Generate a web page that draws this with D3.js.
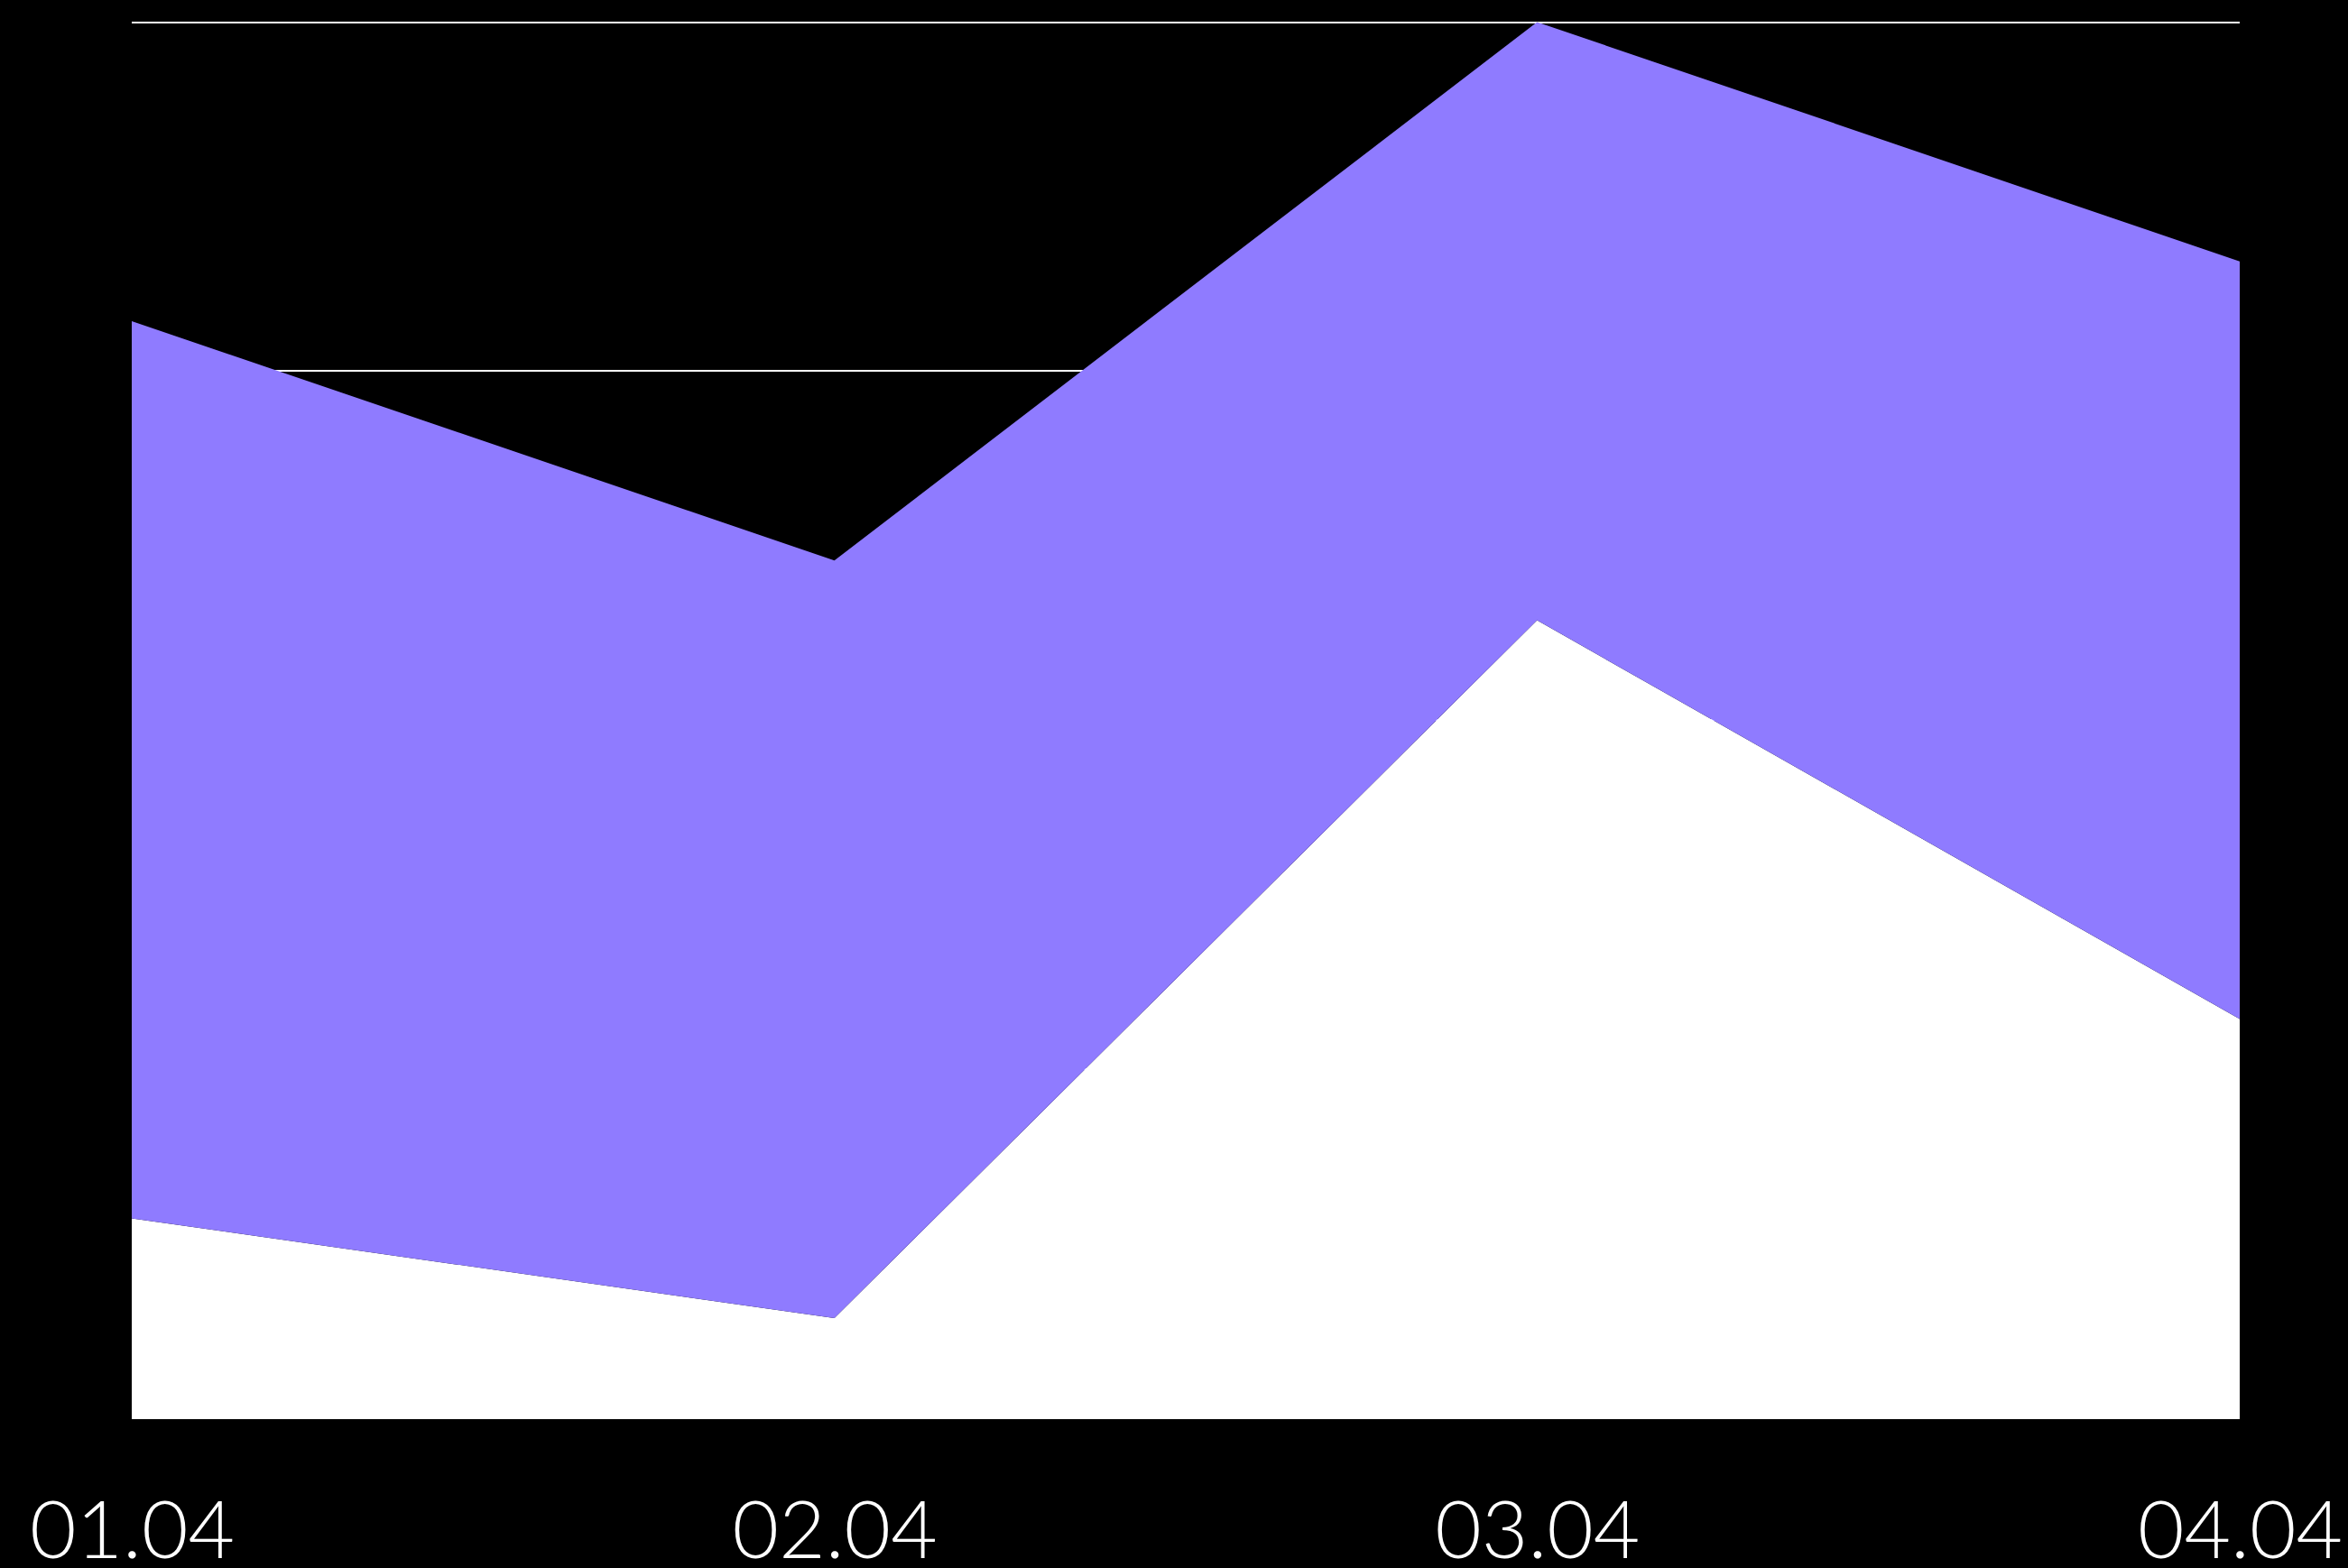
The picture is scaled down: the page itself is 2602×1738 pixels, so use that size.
<!DOCTYPE html>
<html>
<head>
<meta charset="utf-8">
<script src="https://cdn.jsdelivr.net/npm/d3@7"></script>
<style>
  html, body { margin: 0; padding: 0; background: #000; overflow: hidden; }
</style>
</head>
<body>
<div id="chart"></div>
<script>
// data
var dates = ["01.04", "02.04", "03.04", "04.04"];
var seriesBottom = [10, 5, 40, 20];   // white
var seriesTop = [45, 38, 30, 38];     // purple, stacked on white
var yTicks = [0, 17.5, 35, 52.5, 70];

var width = 2602, height = 1738;
var margin = {top: 24.5, right: 120, bottom: 166.5, left: 146};

var svg = d3.select("#chart")
  .append("svg")
  .attr("width", width)
  .attr("height", height)
  .style("display", "block")
  .style("background", "#000");

var rows = dates.map(function(d, i) {
  return {date: d, bottom: seriesBottom[i], top: seriesTop[i]};
});

var x = d3.scalePoint()
  .domain(dates)
  .range([margin.left, 2482]);

var y = d3.scaleLinear()
  .domain([0, 70])
  .range([height - margin.bottom, margin.top]);

// grid lines (behind the areas)
svg.append("g")
  .selectAll("line")
  .data(yTicks)
  .enter().append("line")
    .attr("x1", x.range()[0])
    .attr("x2", x.range()[1])
    .attr("y1", function(d) { return Math.round(y(d)); })
    .attr("y2", function(d) { return Math.round(y(d)); })
    .attr("stroke", "#fff")
    .attr("stroke-width", 2);

var stacked = d3.stack().keys(["bottom", "top"])(rows);
var colors = {bottom: "#ffffff", top: "#8f7bff"};

var area = d3.area()
  .x(function(d) { return x(d.data.date); })
  .y0(function(d) { return y(d[0]); })
  .y1(function(d) { return y(d[1]); });

svg.append("g")
  .selectAll("path")
  .data(stacked)
  .enter().append("path")
    .attr("fill", function(d) { return colors[d.key]; })
    .attr("d", area);

// x axis labels
var xAxis = d3.axisBottom(x).tickSize(0).tickPadding(0);
var gx = svg.append("g")
  .attr("transform", "translate(0," + 1727 + ")")
  .call(xAxis);
gx.select(".domain").remove();
gx.selectAll("text")
  .attr("dy", 0)
  .attr("y", 0)
  .attr("fill", "#fff")
  .style("font-family", "Lato, 'Open Sans', sans-serif")
  .style("font-weight", 300)
  .style("font-size", "89px");
</script>
</body>
</html>
